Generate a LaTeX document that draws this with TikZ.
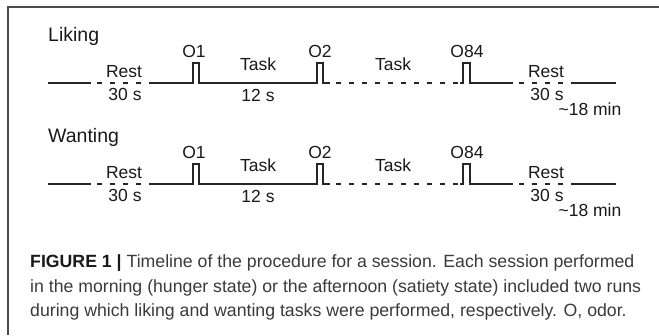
\documentclass[tikz,border=0pt]{standalone}
\usepackage{fontspec}
\setmainfont{Liberation Sans}
\definecolor{captext}{HTML}{3A3A3A}
\begin{document}
\begin{tikzpicture}[x=1pt,y=-1pt,
  tl/.style={line width=1.3pt, draw=black!85},
  tldash/.style={tl, dash pattern=on 5pt off 8pt},
  rowtitle/.style={font=\fontsize{19.5}{22}\selectfont, anchor=base west, inner sep=0, text=black!90},
  lbl/.style={font=\fontsize{17.5}{20}\selectfont, anchor=base, inner sep=0, text=black!90},
  capline/.style={font=\fontsize{17.7}{20}\selectfont, anchor=base west, inner sep=0, text=captext},
  frameline/.style={draw=black!70, line width=1.3pt}]
\useasboundingbox (0,0) rectangle (659,335);
\coordinate (fbl) at (8,335);
\coordinate (ftl) at (8,7);
\coordinate (ftr) at (659,7);
\draw[frameline] (fbl) -- (ftl) -- (ftr);
\foreach \yy/\nm in {0/Liking,101/Wanting}{
  \begin{scope}[yshift=-\yy pt]
    \node[rowtitle] (title\yy) at (48,41) {\nm};
    \node[lbl] (restA\yy) at (124,77) {Rest};
    \node[lbl] (restAt\yy) at (125,100) {30 s};
    \node[lbl] (oa\yy) at (194,57) {O1};
    \node[lbl] (taskA\yy) at (258,70) {Task};
    \node[lbl] (taskAt\yy) at (258,101) {12 s};
    \node[lbl] (ob\yy) at (320,57) {O2};
    \node[lbl] (taskB\yy) at (393,70) {Task};
    \node[lbl] (oc\yy) at (467,57) {O84};
    \node[lbl] (restB\yy) at (546,77) {Rest};
    \node[lbl] (restBt\yy) at (547,100) {30 s};
    \node[lbl] (tot\yy) at (590,115) {\char126\relax 18 min};
    \draw[tl] (48,83) -- (91,83);
    \draw[tldash] (97,83) -- (150,83);
    \draw[tl] (150,83) -- (193,83) -- (193,63) -- (199,63) -- (199,83)
      -- (317,83) -- (317,63) -- (323,63) -- (323,83) -- (330,83);
    \draw[tldash] (336,83) -- (461,83);
    \draw[tl] (460,83) -- (463,83) -- (463,63) -- (470,63) -- (470,83) -- (513,83);
    \draw[tldash] (519,83) -- (572,83);
    \draw[tl] (572,83) -- (616,83);
  \end{scope}
}
\node[capline] (cap1) at (30,267) {\textbf{\color{black!90}FIGURE 1 |} Timeline of the procedure for a session. Each session performed};
\node[capline] (cap2) at (30,292) {in the morning (hunger state) or the afternoon (satiety state) included two runs};
\node[capline] (cap3) at (30,316) {during which liking and wanting tasks were performed, respectively. O, odor.};
\end{tikzpicture}
\end{document}
